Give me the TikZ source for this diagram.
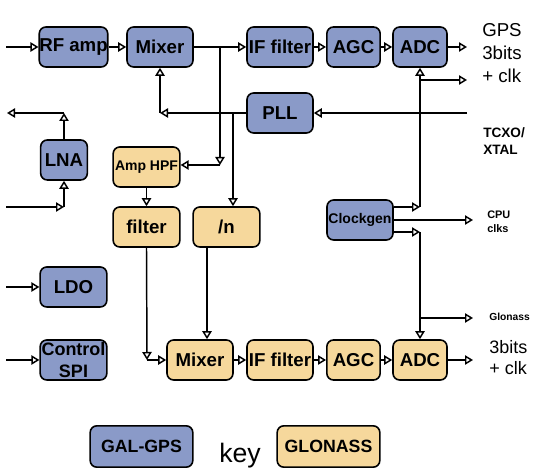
\documentclass[tikz,border=0pt]{standalone}
\usepackage{fontspec}
\setmainfont{Liberation Sans}
\usetikzlibrary{arrows.meta}
\definecolor{gpsblue}{RGB}{138,154,200}
\definecolor{glotan}{RGB}{246,216,156}
\begin{document}
\begin{tikzpicture}[x=0.75pt,y=-0.75pt,
  blk/.style={draw=black, line width=1.2pt, rounded corners=5pt, inner sep=0pt,
    minimum height=30pt, font=\bfseries\fontsize{14}{15}\selectfont, align=center},
  gps/.style={blk, fill=gpsblue},
  glo/.style={blk, fill=glotan},
  small/.style={font=\bfseries\fontsize{10.5}{12}\selectfont},
  conn/.style={line width=1.1pt, -{Triangle[open,length=6pt,width=7pt]}},
  lbl/.style={anchor=west, align=left, inner sep=0pt}]
\useasboundingbox (0,0) rectangle (540,473);

% GPS chain
\node[gps, minimum width=50pt] (rfamp) at (73.5,47) {RF amp};
\node[gps, minimum width=49.5pt] (mix1) at (160,47) {Mixer};
\node[gps, minimum width=49.5pt] (iff1) at (280,47) {IF filter};
\node[gps, minimum width=40pt] (agc1) at (353.5,47) {AGC};
\node[gps, minimum width=40.5pt] (adc1) at (420,47) {ADC};
\node[gps, minimum width=49.5pt] (pll) at (280,113) {PLL};
\node[gps, minimum width=35pt] (lna) at (64,160) {LNA};
\node[gps, minimum width=50pt] (ldo) at (73.5,287) {LDO};
\node[gps, minimum width=50pt, font=\bfseries\fontsize{13.5}{16}\selectfont] (ctrl) at (73.5,360) {Control\\SPI};
\node[gps, small, minimum width=49.5pt] (clk) at (360,220) {Clockgen};

% GLONASS chain
\node[glo, small, minimum width=50pt] (amphpf) at (146.5,167) {Amp HPF};
\node[glo, minimum width=50pt] (filt) at (146.5,227) {filter};
\node[glo, minimum width=50pt] (divn) at (226.5,227) {/n};
\node[glo, minimum width=49.5pt] (mix2) at (200,360) {Mixer};
\node[glo, minimum width=49.5pt] (iff2) at (280,360) {IF filter};
\node[glo, minimum width=40pt] (agc2) at (353.5,360) {AGC};
\node[glo, minimum width=40.5pt] (adc2) at (420,360) {ADC};

% key
\node[gps, minimum width=77pt, minimum height=31pt, font=\bfseries\fontsize{13.3}{15}\selectfont] (k1) at (141.5,446.5) {GAL-GPS};
\node[glo, minimum width=77pt, minimum height=31pt, font=\bfseries\fontsize{13.3}{15}\selectfont] (k2) at (328.5,446.5) {GLONASS};
\node[anchor=base, inner sep=0pt, font=\fontsize{20}{24}\selectfont] (keytxt) at (240,463) {key};

% labels
\node[lbl, font=\fontsize{14}{17}\selectfont] (gpsout) at (482,53) {GPS\\3bits\\+ clk};
\node[lbl, font=\bfseries\fontsize{10.2}{12.5}\selectfont] (tcxo) at (483,141) {TCXO/\\XTAL};
\node[lbl, font=\bfseries\fontsize{8.2}{10.5}\selectfont] (cpu) at (487,222) {CPU\\clks};
\node[lbl, font=\bfseries\fontsize{7.7}{9}\selectfont] (glotxt) at (489,317) {Glonass};
\node[lbl, font=\fontsize{13.5}{16}\selectfont] (out2) at (489,357.5) {3bits\\+ clk};

% coordinates
\coordinate (in1) at (6,47);
\coordinate (b1) at (220,47);
\coordinate (b2) at (220,165);
\coordinate (o1) at (467,47);
\coordinate (p1) at (160,113);
\coordinate (p2) at (233,113);
\coordinate (tc) at (467,113);
\coordinate (o2) at (467,80);
\coordinate (c1) at (420,207);
\coordinate (c1b) at (420,80);
\coordinate (c2) at (473,220);
\coordinate (c3) at (420,232);
\coordinate (c3b) at (420,318);
\coordinate (c3o) at (473,318);
\coordinate (o3) at (473,360);
\coordinate (f1) at (147,360);
\coordinate (n1) at (207,247);
\coordinate (lin) at (6,207);
\coordinate (l1) at (64,207);
\coordinate (l2) at (64,113);
\coordinate (lout) at (7,113);
\coordinate (ldin) at (6,287);
\coordinate (ctin) at (6,360);

% top chain
\draw[conn] (in1) -- (rfamp.west);
\draw[conn] (rfamp.east) -- (mix1.west);
\draw[conn] (mix1.east) -- (iff1.west);
\draw[conn] (iff1.east) -- (agc1.west);
\draw[conn] (agc1.east) -- (adc1.west);
\draw[conn] (adc1.east) -- (o1);
\draw[conn] (b1) -- (b2);
\draw[conn] (b2) -- (b2 -| amphpf.east);

% PLL
\draw[conn] (tc) -- (pll.east);
\draw[conn] (pll.west) -- (p1);
\draw[conn] (p1) -- (mix1.south);
\draw[conn] (p2) -- (p2 |- divn.north);

% LNA, LDO, control
\draw[conn] (lin) -- (l1);
\draw[conn] (l1) -- (lna.south);
\draw[conn] (lna.north) -- (l2);
\draw[conn] (l2) -- (lout);
\draw[conn] (ldin) -- (ldo.west);
\draw[conn] (ctin) -- (ctrl.west);

% glonass chain
\draw[conn] (amphpf.south) -- (filt.north);
\draw[conn] (filt.south) -- (f1);
\draw[conn] (f1) -- (mix2.west);
\draw[conn] (n1) -- (n1 |- mix2.north);
\draw[conn] (mix2.east) -- (iff2.west);
\draw[conn] (iff2.east) -- (agc2.west);
\draw[conn] (agc2.east) -- (adc2.west);
\draw[conn] (adc2.east) -- (o3);

% clockgen
\draw[conn] (clk.east |- c1) -- (c1);
\draw[conn] (c1) -- (adc1.south);
\draw[conn] (c1b) -- (o2);
\draw[conn] (clk.east) -- (c2);
\draw[conn] (clk.east |- c3) -- (c3);
\draw[conn] (c3) -- (adc2.north);
\draw[conn] (c3b) -- (c3o);
\end{tikzpicture}
\end{document}
